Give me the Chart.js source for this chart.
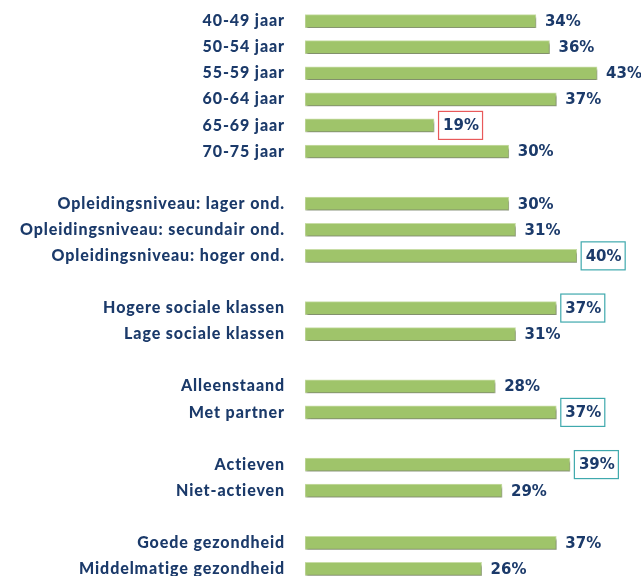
<!DOCTYPE html>
<html>
<head>
<meta charset="utf-8">
<script src="https://cdn.jsdelivr.net/npm/chart.js@4.4.0/dist/chart.umd.min.js"></script>
<style>
  html, body { margin: 0; padding: 0; background: #fff; overflow: hidden; }
  #wrap { width: 641px; height: 590px; }
</style>
</head>
<body>
<div id="wrap"><canvas id="myChart"></canvas></div>
<script>
// categories (empty strings are the gaps between groups)
const categories = [
    '40-49 jaar', '50-54 jaar', '55-59 jaar', '60-64 jaar', '65-69 jaar', '70-75 jaar',
    '',
    'Opleidingsniveau: lager ond.', 'Opleidingsniveau: secundair ond.', 'Opleidingsniveau: hoger ond.',
    '',
    'Hogere sociale klassen', 'Lage sociale klassen',
    '',
    'Alleenstaand', 'Met partner',
    '',
    'Actieven', 'Niet-actieven',
    '',
    'Goede gezondheid', 'Middelmatige gezondheid'
];
const percentages = [
    34, 36, 43, 37, 19, 30,
    null,
    30, 31, 40,
    null,
    37, 31,
    null,
    28, 37,
    null,
    39, 29,
    null,
    37, 26
];
// 'low' = red frame, 'high' = teal frame
const highlight = [
    '', '', '', '', 'low', '',
    '',
    '', '', 'high',
    '',
    'high', '',
    '',
    '', 'high',
    '',
    'high', '',
    '',
    '', ''
];

const navy = '#1b3a6a';

// a bit of letter spacing for the category labels
const spacing = {
    id: 'spacing',
    beforeDraw(chart) {
        chart.ctx.letterSpacing = '0.9px';
    }
};

// soft shadow under the bars
const barShadow = {
    id: 'barShadow',
    beforeDatasetsDraw(chart) {
        const ctx = chart.ctx;
        ctx.save();
        ctx.shadowColor = 'rgba(0,0,0,0.35)';
        ctx.shadowBlur = 2;
        ctx.shadowOffsetX = 1;
        ctx.shadowOffsetY = 3;
    },
    afterDatasetsDraw(chart) {
        chart.ctx.restore();
    }
};

// percentage labels next to the bars
const valueLabels = {
    id: 'valueLabels',
    afterDatasetsDraw(chart) {
        const ctx = chart.ctx;
        const meta = chart.getDatasetMeta(0);
        ctx.save();
        ctx.letterSpacing = '0px';
        ctx.font = 'bold 15px "DejaVu Sans"';
        ctx.textBaseline = 'middle';
        ctx.textAlign = 'left';
        meta.data.forEach((bar, i) => {
            const v = percentages[i];
            if (v === null) return;
            const x = bar.x + 9;
            const y = bar.y;
            if (highlight[i]) {
                ctx.strokeStyle = highlight[i] === 'low' ? '#e8595a' : '#3fa9ad';
                ctx.lineWidth = 1.2;
                ctx.strokeRect(x - 4.5, y - 14, 44, 28);
            }
            ctx.fillStyle = navy;
            ctx.fillText(v + '%', x, y + 1);
        });
        ctx.restore();
    }
};

const ctx = document.getElementById('myChart').getContext('2d');
const chart = new Chart(ctx, {
    type: 'bar',
    data: {
        labels: categories,
        datasets: [{
            data: percentages,
            backgroundColor: '#9fc46a',
            borderColor: '#c8dda6',
            borderWidth: 1,
            borderSkipped: false,
            barThickness: 13
        }]
    },
    options: {
        indexAxis: 'y',
        responsive: true,
        maintainAspectRatio: false,
        animation: false,
        layout: { padding: { top: 8, bottom: 8, right: 10, left: 0 } },
        plugins: {
            legend: { display: false },
            tooltip: { enabled: false }
        },
        scales: {
            x: {
                display: false,
                min: 0,
                max: 48
            },
            y: {
                grid: { display: false, drawTicks: false },
                border: { display: false },
                ticks: {
                    color: navy,
                    padding: 20,
                    autoSkip: false,
                    font: { family: 'Lato', weight: '900', size: 16 }
                },
                afterFit(scale) {
                    scale.width = 305;
                    scale.paddingTop = 0;
                    scale.paddingBottom = 0;
                }
            }
        }
    },
    plugins: [spacing, barShadow, valueLabels]
});
</script>
</body>
</html>
